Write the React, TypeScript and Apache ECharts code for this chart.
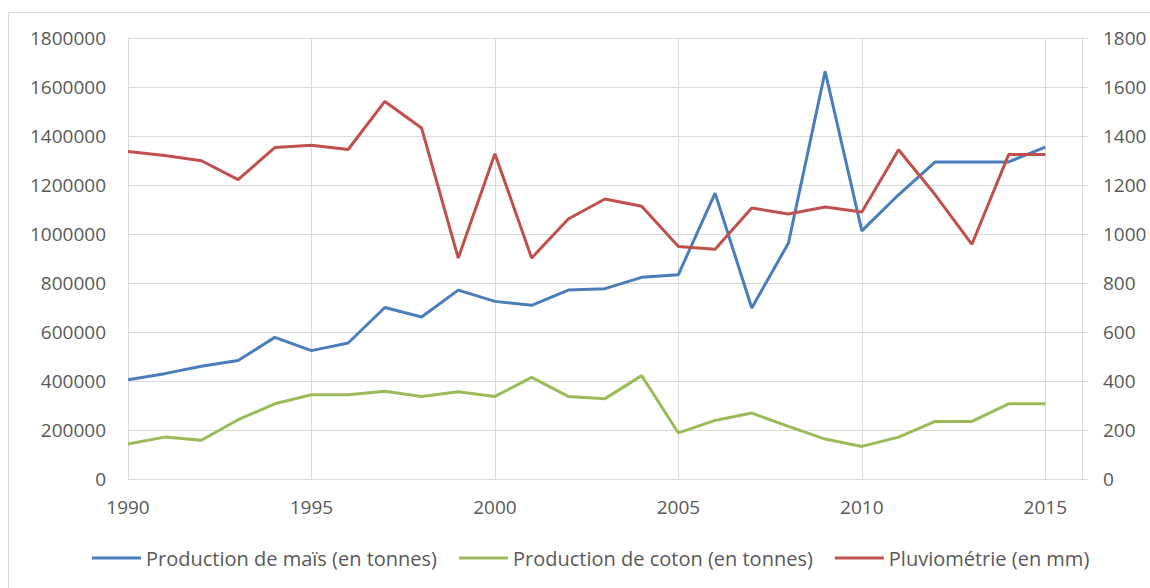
import React, { useEffect, useRef } from "react";
import * as echarts from "echarts";

const years = [1990, 1991, 1992, 1993, 1994, 1995, 1996, 1997, 1998, 1999, 2000, 2001, 2002, 2003, 2004, 2005, 2006, 2007, 2008, 2009, 2010, 2011, 2012, 2013, 2014, 2015];

const mais = [405000, 430000, 460000, 484000, 578000, 524000, 555000, 700000, 661000, 771000, 725000, 709000, 771000, 777000, 823000, 834000, 1167000, 698000, 963000, 1664000, 1013000, 1160000, 1294000, 1294000, 1294000, 1355000];

const coton = [143000, 171000, 158000, 242000, 307000, 344000, 344000, 358000, 337000, 356000, 337000, 415000, 337000, 328000, 422000, 188000, 239000, 269000, 215000, 163000, 133000, 171000, 235000, 235000, 307000, 307000];

const pluvio = [1337, 1320, 1299, 1222, 1353, 1362, 1345, 1541, 1433, 902, 1328, 902, 1061, 1143, 1113, 949, 938, 1106, 1082, 1110, 1090, 1344, 1160, 958, 1324, 1324];

const seriesNames = ["Production de maïs (en tonnes)", "Production de coton (en tonnes)", "Pluviométrie (en mm)"];
const colors = ["#4a7ebb", "#9bbb59", "#c0504d"];

const FONT = "Open Sans";
const LABEL = "#595959";
const GRID = "#d9d9d9";

export default function App() {
  const ref = useRef<HTMLDivElement>(null);
  useEffect(() => {
    document.body.style.margin = "0";
    document.body.style.overflow = "hidden";
    const chart = echarts.init(ref.current!, null, { renderer: "svg" });
    const pairs = (vals: number[]) => years.map((y, i) => [y, vals[i]]);
    chart.setOption({
      animation: false,
      backgroundColor: "#ffffff",
      textStyle: { fontFamily: FONT },
      graphic: [
        {
          type: "rect",
          shape: { x: 8.5, y: 12.5, width: 1200, height: 700 },
          style: { fill: "none", stroke: "#d9d9d9", lineWidth: 1 },
          silent: true,
        },
      ],
      grid: { left: 128, right: 68, top: 38, bottom: 109, containLabel: false },
      legend: {
        bottom: 15,
        left: 87,
        itemWidth: 49,
        itemHeight: 3,
        itemGap: 22,
        icon: "rect",
        textStyle: { color: LABEL, fontSize: 20, fontFamily: FONT },
        data: seriesNames,
      },
      xAxis: {
        type: "value",
        min: 1990,
        max: 2016,
        interval: 5,
        axisLine: { show: true, lineStyle: { color: GRID, width: 1 } },
        axisTick: { show: false },
        splitLine: { show: true, lineStyle: { color: GRID, width: 1 } },
        axisLabel: {
          color: LABEL,
          fontSize: 19,
          fontFamily: FONT,
          margin: 18,
          showMaxLabel: false,
          formatter: (v: number) => String(v),
        },
      },
      yAxis: [
        {
          type: "value",
          min: 0,
          max: 1800000,
          interval: 200000,
          axisLine: { show: true, lineStyle: { color: GRID } },
          axisTick: { show: false },
          splitLine: { show: true, lineStyle: { color: GRID, width: 1 } },
          axisLabel: { color: LABEL, fontSize: 19, fontFamily: FONT, margin: 22, formatter: (v: number) => String(v) },
        },
        {
          type: "value",
          min: 0,
          max: 1800,
          interval: 200,
          position: "right",
          axisLine: { show: true, lineStyle: { color: GRID } },
          axisTick: { show: true, length: 6, lineStyle: { color: GRID } },
          splitLine: { show: false },
          axisLabel: { color: LABEL, fontSize: 19, fontFamily: FONT, margin: 21, formatter: (v: number) => String(v) },
        },
      ],
      series: [
        {
          name: seriesNames[0],
          type: "line",
          yAxisIndex: 0,
          data: pairs(mais),
          showSymbol: false,
          symbol: "none",
          lineStyle: { color: colors[0], width: 3 },
          itemStyle: { color: colors[0] },
          z: 3,
        },
        {
          name: seriesNames[1],
          type: "line",
          yAxisIndex: 0,
          data: pairs(coton),
          showSymbol: false,
          symbol: "none",
          lineStyle: { color: colors[1], width: 3 },
          itemStyle: { color: colors[1] },
          z: 2,
        },
        {
          name: seriesNames[2],
          type: "line",
          yAxisIndex: 1,
          data: pairs(pluvio),
          showSymbol: false,
          symbol: "none",
          lineStyle: { color: colors[2], width: 3 },
          itemStyle: { color: colors[2] },
          z: 4,
        },
      ],
    });
    return () => chart.dispose();
  }, []);
  return <div ref={ref} style={{ width: 1150, height: 588 }} />;
}
